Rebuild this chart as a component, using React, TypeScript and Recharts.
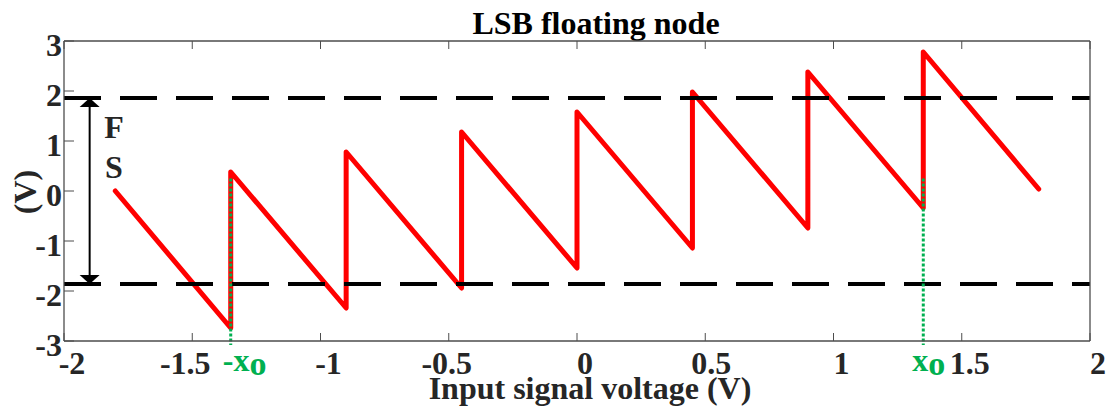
import React from 'react';
import { LineChart, Line, XAxis, YAxis, ReferenceLine, ReferenceDot, Customized } from 'recharts';

// ---- data ----
const sawX = [-1.8, -1.35, -1.35, -0.9, -0.9, -0.45, -0.45, 0, 0, 0.45, 0.45, 0.9, 0.9, 1.35, 1.35, 1.8];
const sawY = [0, -2.74, 0.38, -2.34, 0.78, -1.94, 1.18, -1.54, 1.58, -1.14, 1.98, -0.74, 2.38, -0.34, 2.78, 0.04];
const xTicks = [-2, -1.5, -1, -0.5, 0, 0.5, 1, 1.5, 2];
const xTickLabels = ['-2', '-1.5', '-1', '-0.5', '0', '0.5', '1', '1.5', '2'];
const yTicks = [-3, -2, -1, 0, 1, 2, 3];
const yTickLabels = ['-3', '-2', '-1', '0', '1', '2', '3'];
const fsLevel = 1.86;
const x0 = 1.35;
const greenTop = 0.25;
const greenBottom = -3.08;
const arrowX = -1.9;
const fsLetters = ['F', 'S'];
const fsLetterX = -1.805;
const fsLetterY = [1.29, 0.49];
const titleText = 'LSB floating node';
const xLabelText = 'Input signal voltage (V)';
const yLabelText = '(V)';

const sawData = sawX.map((x, i) => ({ x, y: sawY[i] }));

// ---- styles ----
const FONT = 'Liberation Serif, Times New Roman, serif';
const TXT = '#262626';
const AX = '#4d4d4d';
const GREEN = '#00b050';
const xTickDx: Record<string, number> = { '-1.5': -7, '-0.5': -2, '0.5': 6 };

const BottomTick = (props: any) => {
  const { x, y, payload } = props;
  const idx = xTicks.indexOf(payload.value);
  const label = idx >= 0 ? xTickLabels[idx] : String(payload.value);
  const dx = xTickDx[label] ?? 8;
  return (
    <g>
      <line x1={x} x2={x} y1={y} y2={y - 8} stroke={AX} strokeWidth={1} />
      <text x={x + dx} y={y + 33} textAnchor="middle" fontFamily={FONT} fontWeight="bold" fontSize={32} fill={TXT}>
        {label}
      </text>
    </g>
  );
};

const TopTick = (props: any) => {
  const { x, y } = props;
  return <line x1={x} x2={x} y1={y} y2={y + 8} stroke={AX} strokeWidth={1} />;
};

const LeftTick = (props: any) => {
  const { x, y, payload } = props;
  const idx = yTicks.indexOf(payload.value);
  const label = idx >= 0 ? yTickLabels[idx] : String(payload.value);
  return (
    <g>
      <line x1={x} x2={x + 10} y1={y} y2={y} stroke={AX} strokeWidth={1} />
      <text x={x - 2} y={y + 15} textAnchor="end" fontFamily={FONT} fontWeight="bold" fontSize={32} fill={TXT}>
        {label}
      </text>
    </g>
  );
};

const RightTick = (props: any) => {
  const { x, y } = props;
  return <line x1={x} x2={x - 10} y1={y} y2={y} stroke={AX} strokeWidth={1} />;
};

const ArrowUp = (props: any) => {
  const { cx, cy } = props;
  return <polygon points={`${cx},${cy} ${cx - 10},${cy + 9} ${cx + 10},${cy + 9}`} fill="#000" />;
};
const ArrowDown = (props: any) => {
  const { cx, cy } = props;
  return <polygon points={`${cx},${cy} ${cx - 10},${cy - 9} ${cx + 10},${cy - 9}`} fill="#000" />;
};

const makeLetter = (t: string) => (props: any) => {
  const { cx, cy } = props;
  return (
    <text x={cx} y={cy + 11} textAnchor="middle" fontFamily={FONT} fontWeight="bold" fontSize={32} fill={TXT}>
      {t}
    </text>
  );
};

const makeGreenLabel = (prefix: string, dx: number) => (props: any) => {
  const { cx, cy } = props;
  return (
    <text x={cx + dx} y={cy + 30} textAnchor="start" fontFamily={FONT} fontWeight="bold" fontSize={32} fill={GREEN}>
      {prefix}
      <tspan fontSize={34} dy={4}>o</tspan>
    </text>
  );
};

const Texts = () => (
  <g>
    <text x={596} y={34} textAnchor="middle" fontFamily={FONT} fontWeight="bold" fontSize={32} fill="#000">
      {titleText}
    </text>
    <text x={590} y={399} textAnchor="middle" fontFamily={FONT} fontWeight="bold" fontSize={32} fill={TXT}>
      {xLabelText}
    </text>
    <text
      x={36}
      y={192}
      textAnchor="middle"
      transform="rotate(-90 36 192)"
      fontFamily={FONT}
      fontWeight="bold"
      fontSize={32}
      fill={TXT}
    >
      {yLabelText}
    </text>
  </g>
);

export default function App() {
  return (
    <div style={{ position: 'absolute', left: 0, top: 0, width: 1112, height: 409 }}>
      <LineChart width={1112} height={409} data={sawData} margin={{ top: 40, right: 21, bottom: 8, left: 8 }}>
        <XAxis
          dataKey="x"
          type="number"
          domain={[-2, 2]}
          ticks={xTicks}
          interval={0}
          allowDataOverflow
          height={60}
          tickSize={0}
          tickMargin={0}
          tickLine={false}
          tick={BottomTick}
          axisLine={{ stroke: AX, strokeWidth: 1.3 }}
        />
        <XAxis
          xAxisId="top"
          orientation="top"
          dataKey="x"
          type="number"
          domain={[-2, 2]}
          ticks={xTicks}
          interval={0}
          height={1}
          tickSize={0}
          tickMargin={0}
          tickLine={false}
          tick={TopTick}
          axisLine={{ stroke: AX, strokeWidth: 1.3 }}
        />
        <YAxis
          type="number"
          domain={[-3, 3]}
          ticks={yTicks}
          interval={0}
          allowDataOverflow
          width={56}
          tickSize={0}
          tickMargin={0}
          tickLine={false}
          tick={LeftTick}
          axisLine={{ stroke: AX, strokeWidth: 1.3 }}
        />
        <YAxis
          yAxisId="right"
          orientation="right"
          type="number"
          domain={[-3, 3]}
          ticks={yTicks}
          interval={0}
          width={1}
          tickSize={0}
          tickMargin={0}
          tickLine={false}
          tick={RightTick}
          axisLine={{ stroke: AX, strokeWidth: 1.3 }}
        />
        <Line
          dataKey="y"
          stroke="#ff0000"
          strokeWidth={5}
          strokeLinejoin="round"
          strokeLinecap="round"
          dot={false}
          activeDot={false}
          isAnimationActive={false}
        />
        <ReferenceLine y={fsLevel} stroke="#000" strokeWidth={4} strokeDasharray="37 19" />
        <ReferenceLine y={-fsLevel} stroke="#000" strokeWidth={4} strokeDasharray="37 19" />
        <ReferenceLine
          segment={[{ x: -x0, y: greenTop }, { x: -x0, y: greenBottom }]}
          stroke={GREEN}
          strokeWidth={3}
          strokeDasharray="3 2"
          ifOverflow="visible"
        />
        <ReferenceLine
          segment={[{ x: x0, y: greenTop }, { x: x0, y: greenBottom }]}
          stroke={GREEN}
          strokeWidth={3}
          strokeDasharray="3 2"
          ifOverflow="visible"
        />
        <ReferenceLine
          segment={[{ x: arrowX, y: fsLevel - 0.15 }, { x: arrowX, y: -fsLevel + 0.15 }]}
          stroke="#000"
          strokeWidth={2}
        />
        <ReferenceDot x={arrowX} y={fsLevel} r={0} shape={ArrowUp} ifOverflow="visible" />
        <ReferenceDot x={arrowX} y={-fsLevel} r={0} shape={ArrowDown} ifOverflow="visible" />
        {fsLetters.map((t, i) => (
          <ReferenceDot key={t} x={fsLetterX} y={fsLetterY[i]} r={0} shape={makeLetter(t)} ifOverflow="visible" />
        ))}
        <ReferenceDot x={-x0} y={-3} r={0} shape={makeGreenLabel('-x', -8)} ifOverflow="visible" />
        <ReferenceDot x={x0} y={-3} r={0} shape={makeGreenLabel('x', -11)} ifOverflow="visible" />
        <Customized component={Texts} />
      </LineChart>
    </div>
  );
}
